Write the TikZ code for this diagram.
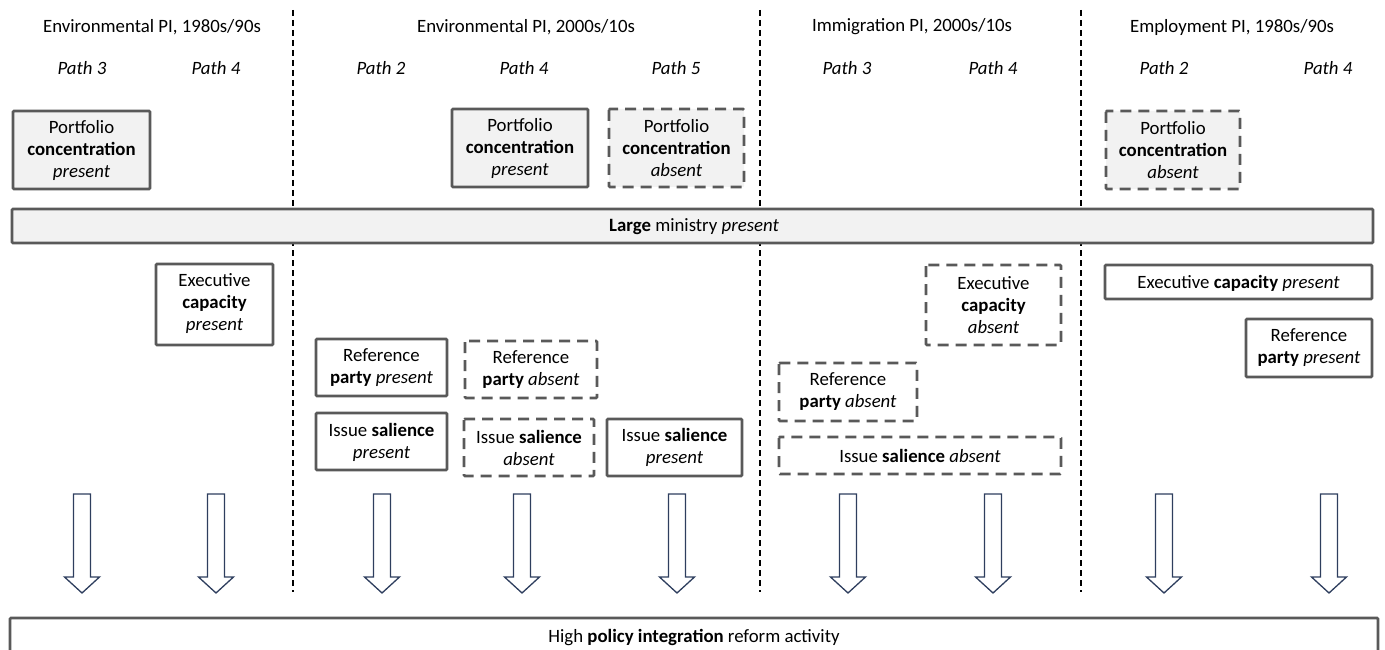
\documentclass[tikz,border=0pt]{standalone}
\usepackage{fontspec}
\setmainfont{Carlito}
\begin{document}
\begin{tikzpicture}[x=1pt,y=-1pt,
  every node/.style={font=\fontsize{18.8}{22}\selectfont, align=center, inner sep=0pt},
  header/.style={},
  pathlbl/.style={font=\fontsize{18.8}{22}\selectfont\itshape},
  factor/.style={draw=boxgray, line width=2.6pt, fill=#1, rounded corners=1pt},
  factor/.default=white,
  absentbox/.style={factor=#1, dash pattern=on 11pt off 7pt},
  absentbox/.default=white,
  divider/.style={draw=black, line width=1.4pt, dash pattern=on 6pt off 4pt},
  blockarrow/.style={draw=arrownavy, line width=1.3pt, fill=white, line join=miter}
]
\definecolor{boxgray}{HTML}{595959}
\definecolor{boxfill}{HTML}{F2F2F2}
\definecolor{arrownavy}{HTML}{2E3E5E}

\useasboundingbox (0,0) rectangle (1385,650);
\clip (0,0) rectangle (1385,650);

% column headings
\node[header] (h1) at (152,27) {Environmental PI, 1980s/90s};
\node[header] (h2) at (526,27) {Environmental PI, 2000s/10s};
\node[header] (h3) at (912,27) {Immigration PI, 2000s/10s};
\node[header] (h4) at (1232,27) {Employment PI, 1980s/90s};

% path labels
\node[pathlbl] (p1) at (82,68) {Path 3};
\node[pathlbl] (p2) at (216,68) {Path 4};
\node[pathlbl] (p3) at (381,68) {Path 2};
\node[pathlbl] (p4) at (524,68) {Path 4};
\node[pathlbl] (p5) at (676,68) {Path 5};
\node[pathlbl] (p6) at (847,68) {Path 3};
\node[pathlbl] (p7) at (993,68) {Path 4};
\node[pathlbl] (p8) at (1164,68) {Path 2};
\node[pathlbl] (p9) at (1328,68) {Path 4};

% dashed column separators
\coordinate (s1t) at (293,10);  \coordinate (s1b) at (293,592);
\coordinate (s2t) at (760,10);  \coordinate (s2b) at (760,592);
\coordinate (s3t) at (1081,10); \coordinate (s3b) at (1081,592);
\draw[divider] (s1t) -- (s1b);
\draw[divider] (s2t) -- (s2b);
\draw[divider] (s3t) -- (s3b);

% portfolio concentration
\draw[factor=boxfill] (13,111) rectangle (150,189);
\node (pc1) at (81.5,150) {Portfolio\\\textbf{concentration}\\\textit{present}};
\draw[factor=boxfill] (452,109) rectangle (588,187);
\node (pc2) at (520,148) {Portfolio\\\textbf{concentration}\\\textit{present}};
\draw[absentbox=boxfill] (609,109) rectangle (744,187);
\node (pc3) at (676.5,148) {Portfolio\\\textbf{concentration}\\\textit{absent}};
\draw[absentbox=boxfill] (1106,111) rectangle (1240,189);
\node (pc4) at (1173,150) {Portfolio\\\textbf{concentration}\\\textit{absent}};

% large ministry
\draw[factor=boxfill] (12,209) rectangle (1373,243);
\node (lm) at (694,227) {\textbf{Large} ministry \textit{present}};

% executive capacity
\draw[factor] (156,264) rectangle (273,345);
\node (ec1) at (214.5,304) {Executive\\\textbf{capacity}\\\textit{present}};
\draw[absentbox] (926,265) rectangle (1061,345);
\node (ec2) at (993.5,305) {Executive\\\textbf{capacity}\\\textit{absent}};
\draw[factor] (1105,265) rectangle (1372,299);
\node (ec3) at (1238.5,283) {Executive \textbf{capacity} \textit{present}};

% reference party
\draw[factor] (316,339) rectangle (447,396);
\node (rp1) at (381.5,367.5) {Reference\\\textbf{party} \textit{present}};
\draw[absentbox] (465,341) rectangle (597,398);
\node (rp2) at (531,369.5) {Reference\\\textbf{party} \textit{absent}};
\draw[absentbox] (779,363) rectangle (917,421);
\node (rp3) at (848,392) {Reference\\\textbf{party} \textit{absent}};
\draw[factor] (1246,319) rectangle (1372,377);
\node (rp4) at (1309,348) {Reference\\\textbf{party} \textit{present}};

% issue salience
\draw[factor] (316,413) rectangle (447,470);
\node (is1) at (381.5,442) {Issue \textbf{salience}\\\textit{present}};
\draw[absentbox] (464,419) rectangle (594,476);
\node (is2) at (529,447.5) {Issue \textbf{salience}\\\textit{absent}};
\draw[factor] (607,419) rectangle (742,476);
\node (is3) at (674.5,447.5) {Issue \textbf{salience}\\\textit{present}};
\draw[absentbox] (779,437) rectangle (1061,474);
\node (is4) at (920,456) {Issue \textbf{salience} \textit{absent}};

% block arrows pointing to the outcome
\foreach \ax in {82,216,382,522,677,848,993,1164,1329}{
  \draw[blockarrow] (\ax-8.5,494) -- (\ax+8.5,494) -- (\ax+8.5,577) -- (\ax+17.5,577)
    -- (\ax,593) -- (\ax-17.5,577) -- (\ax-8.5,577) -- cycle;
}

% outcome
\draw[factor] (10,618) rectangle (1378,664);
\node (out) at (694,638) {High \textbf{policy integration} reform activity};
\end{tikzpicture}
\end{document}
